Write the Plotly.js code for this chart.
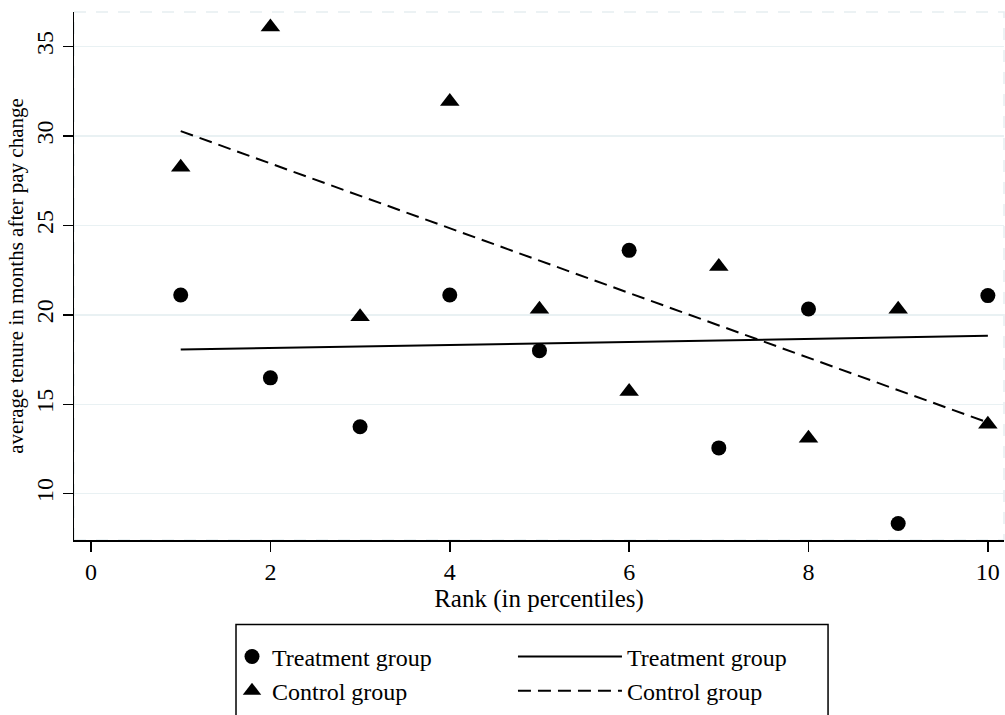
<!DOCTYPE html>
<html>
<head>
<meta charset="utf-8">
<script src="https://cdn.plot.ly/plotly-3.0.1.min.js"></script>
<style>html,body{margin:0;padding:0;background:#fff;}#chart{width:1005px;height:715px;}</style>
</head>
<body>
<div id="chart"></div>
<script>
// Data
const ranks = [1, 2, 3, 4, 5, 6, 7, 8, 9, 10];
const treatmentTenure = [21.11, 16.48, 13.74, 21.11, 18.0, 23.61, 12.56, 20.33, 8.33, 21.08];
const controlTenure = [28.26, 36.1, 19.9, 31.93, 20.32, 15.72, 22.7, 13.1, 20.32, 13.89];
const fitRanks = [1, 10];
const treatmentFit = [18.06, 18.83];
const controlFit = [30.28, 13.98];
const xTicks = [0, 2, 4, 6, 8, 10];
const yTicks = [10, 15, 20, 25, 30, 35];
const seriesNames = ['Treatment group', 'Control group'];

const FONT = '"Liberation Serif", "Times New Roman", Times, serif';

const traces = [
  {x: ranks, y: treatmentTenure, type: 'scatter', mode: 'markers', name: seriesNames[0],
   marker: {symbol: 'circle', size: 15, color: '#000'}, legend: 'legend', cliponaxis: false},
  {x: ranks, y: controlTenure, type: 'scatter', mode: 'markers', name: seriesNames[1],
   marker: {symbol: 'triangle-up', size: 17, color: '#000'}, legend: 'legend', cliponaxis: false},
  {x: fitRanks, y: treatmentFit, type: 'scatter', mode: 'lines', name: seriesNames[0],
   line: {color: '#000', width: 2}, legend: 'legend2'},
  {x: fitRanks, y: controlFit, type: 'scatter', mode: 'lines', name: seriesNames[1],
   line: {color: '#000', width: 2, dash: '13px,7px'}, legend: 'legend2'}
];

const layout = {
  width: 1005, height: 715,
  margin: {l: 74, r: 1, t: 12, b: 172},
  paper_bgcolor: '#fff', plot_bgcolor: '#fff',
  font: {family: FONT, size: 24, color: '#000'},
  showlegend: true,
  xaxis: {
    range: [-0.19, 10.18], tickvals: xTicks, ticktext: xTicks.map(String),
    showgrid: false, zeroline: false, showline: true, linecolor: '#000', linewidth: 1.5,
    ticks: 'outside', ticklen: 10, tickwidth: 1.5, tickcolor: '#000',
    tickfont: {family: FONT, size: 24, color: '#000'},
    title: {text: 'Rank (in percentiles)', font: {family: FONT, size: 25, color: '#000'}, standoff: 4}
  },
  yaxis: {
    range: [7.41, 36.94], tickvals: yTicks, ticktext: yTicks.map(String),
    showgrid: true, gridcolor: '#e9f1f3', gridwidth: 1.5, zeroline: false,
    showline: true, linecolor: '#000', linewidth: 1.5,
    ticks: 'outside', ticklen: 10, tickwidth: 1.5, tickcolor: '#000', tickangle: -90,
    tickfont: {family: FONT, size: 24, color: '#000'},
    title: {text: 'average tenure in months after pay change', font: {family: FONT, size: 21, color: '#000'}, standoff: 2}
  },
  legend: {
    x: 0.1699, y: -0.1789, xanchor: 'left', yanchor: 'top', orientation: 'v',
    bgcolor: 'rgba(0,0,0,0)', borderwidth: 0, itemwidth: 30, tracegroupgap: 0,
    font: {family: FONT, size: 24, color: '#000'}, itemclick: false, itemdoubleclick: false
  },
  legend2: {
    x: 0.472, y: -0.1789, xanchor: 'left', yanchor: 'top', orientation: 'v',
    bgcolor: 'rgba(0,0,0,0)', borderwidth: 0, itemwidth: 104, tracegroupgap: 0,
    font: {family: FONT, size: 24, color: '#000'}, itemclick: false, itemdoubleclick: false
  },
  shapes: [
    {type: 'rect', xref: 'paper', yref: 'paper', x0: 0, x1: 1, y0: 0, y1: 1,
     line: {color: '#e6eef1', width: 1.5, dash: '12px,10px'}, layer: 'below'},
    {type: 'rect', xref: 'paper', yref: 'paper', x0: 0.1742, x1: 0.8108, y0: -0.1601, y1: -0.345,
     line: {color: '#000', width: 1.5}, fillcolor: 'rgba(0,0,0,0)'}
  ]
};

Plotly.newPlot('chart', traces, layout, {staticPlot: true, displayModeBar: false});
</script>
</body>
</html>
